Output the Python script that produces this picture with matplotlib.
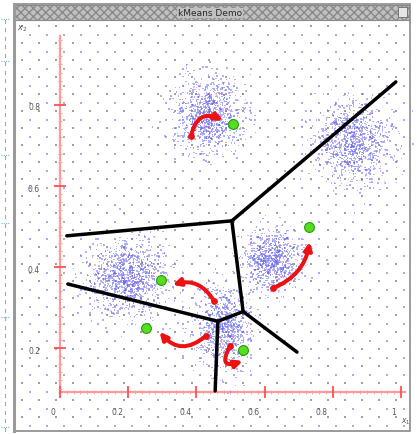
import matplotlib
matplotlib.use('Agg')
import matplotlib.pyplot as plt
import numpy as np
from matplotlib.patches import Rectangle, FancyArrowPatch
from matplotlib.transforms import ScaledTranslation

# cluster clouds: centre, spread, point count
cloud_x = [0.44, 0.86, 0.625, 0.196, 0.478]
cloud_y = [0.775, 0.71, 0.42, 0.372, 0.25]
cloud_sx = [0.052, 0.055, 0.042, 0.056, 0.040]
cloud_sy = [0.044, 0.050, 0.038, 0.044, 0.050]
cloud_n = [1000, 1050, 850, 1150, 850]

# current centroids (green)
cent_x = [0.507, 0.73, 0.296, 0.252, 0.537]
cent_y = [0.753, 0.50, 0.368, 0.249, 0.195]

# previous centroid -> move arrows (red)
arrow_x0 = [0.384, 0.625, 0.452, 0.428, 0.499]
arrow_y0 = [0.723, 0.348, 0.316, 0.230, 0.205]
arrow_x1 = [0.478, 0.732, 0.330, 0.292, 0.536]
arrow_y1 = [0.762, 0.462, 0.356, 0.240, 0.168]
arrow_rad = [-0.62, 0.28, 0.38, -0.5, 1.3]

# voronoi edges
edges = [
    ((0.020, 0.477), (0.504, 0.514)),
    ((0.504, 0.514), (0.985, 0.857)),
    ((0.504, 0.514), (0.537, 0.290)),
    ((0.537, 0.290), (0.695, 0.190)),
    ((0.537, 0.290), (0.463, 0.266)),
    ((0.463, 0.266), (0.023, 0.358)),
    ((0.463, 0.266), (0.455, 0.094)),
]

xticks = [0, 0.2, 0.4, 0.6, 0.8, 1]
xtick_labels = ['0', '0.2', '0.4', '0.6', '0.8', '1']
yticks = [0.2, 0.4, 0.6, 0.8]
ytick_labels = ['0.2', '0.4', '0.6', '0.8']
x_cross = 0.0914

W, H = 417, 435
fig = plt.figure(figsize=(W / 100, H / 100), dpi=100)
fig.patch.set_facecolor('white')

# window chrome, in pixel coords
bg = fig.add_axes([0, 0, 1, 1])
bg.set_xlim(0, W)
bg.set_ylim(H, 0)
bg.axis('off')
bg.add_patch(Rectangle((14, 5), 396, 427, facecolor='white', edgecolor='#8a8a8a', lw=1.2))
bg.plot([14, 14], [5, 432], color='#9a9a9a', lw=2.2)
plt.rcParams['hatch.color'] = '#8c8c8c'
bg.add_patch(Rectangle((15, 6), 394, 15, facecolor='#c0c0c0', edgecolor='#8a8a8a',
                       hatch='xxxx', lw=0.8))
bg.add_patch(Rectangle((398, 8), 9, 10, facecolor='#e6e6e6', edgecolor='#777777', lw=0.7))
bg.text(210, 14, 'kMeans Demo', ha='center', va='center', fontsize=6.5,
        color='#2a2a2a', bbox=dict(facecolor='#c0c0c0', edgecolor='none', pad=0.5))

# dotted background grid (checkerboard of dots, rows alternate grey/blue)
gx = np.arange(22, 408, 8.5)
gy = np.arange(27, 430, 8.5)
GX, GY = np.meshgrid(gx, gy)
I, J = np.meshgrid(np.arange(len(gx)), np.arange(len(gy)))
on = (I + J) % 2 == 0
grey = on & (J % 2 == 0)
blue = on & (J % 2 == 1)
bg.scatter(GX[grey], GY[grey], s=0.8, color='#a0a0a0', marker='s', lw=0)
bg.scatter(GX[blue], GY[blue], s=0.8, color='#a8a8ff', marker='s', lw=0)

# stray blue marks outside the window
for yy in np.arange(22, 432, 8.5):
    bg.plot([5, 5], [yy - 1.5, yy + 1.5], color='#7fb2e8', lw=0.8)
for yy in [20, 62, 156, 224, 318, 428]:
    bg.plot([1, 9], [yy, yy], color='#7fb2e8', lw=0.8, ls=(0, (1, 1)))

# data axes
ax = fig.add_axes([0, 0, 1, 1])
ax.patch.set_alpha(0)
ax.set_xlim(-0.176, 1.047)
ax.set_ylim(-0.0123, 1.0617)

rng = np.random.default_rng(7)
for cx, cy, sx, sy, n in zip(cloud_x, cloud_y, cloud_sx, cloud_sy, cloud_n):
    px = rng.normal(cx, sx, n)
    py = rng.normal(cy, sy, n)
    cols = np.where(rng.random(n) < 0.05, '#ee77cc', '#6464f0')
    ax.scatter(px, py, s=1.1, c=cols, marker='s', lw=0, alpha=0.5, zorder=2)

for (x0, y0), (x1, y1) in edges:
    ax.plot([x0, x1], [y0, y1], color='black', lw=2.5, solid_capstyle='round', zorder=4)

for x0, y0, x1, y1, r in zip(arrow_x0, arrow_y0, arrow_x1, arrow_y1, arrow_rad):
    ax.add_patch(FancyArrowPatch((x0, y0), (x1, y1), connectionstyle=f'arc3,rad={r}',
                                 arrowstyle='-|>', mutation_scale=11, color='#ee1111',
                                 lw=2.9, shrinkA=0, shrinkB=0, zorder=5))
ax.scatter(arrow_x0, arrow_y0, s=24, color='#ee1111', lw=0, zorder=5)

ax.scatter(cent_x, cent_y, s=50, color='#55dd22', edgecolor='#2a9a10', lw=0.8, zorder=6)

# red axes crossing inside the plot
for side in ['top', 'right']:
    ax.spines[side].set_visible(False)
ax.spines['left'].set_position(('data', 0))
ax.spines['bottom'].set_position(('data', x_cross))
ax.spines['left'].set_bounds(x_cross, 0.97)
ax.spines['bottom'].set_bounds(0, 1.012)
for side in ['left', 'bottom']:
    ax.spines[side].set_color('#ff9a9a')
    ax.spines[side].set_linewidth(1.6)
    ax.spines[side].set_zorder(1)
ax.set_xticks(xticks)
ax.set_yticks(yticks)
ax.set_xticks(np.arange(0.02, 1.0, 0.02), minor=True)
ax.set_yticks(np.arange(0.1, 0.97, 0.02), minor=True)
ax.tick_params(which='major', direction='inout', length=9, width=1.3, color='#ff5050',
               labelbottom=False, labelleft=False)
ax.tick_params(which='minor', direction='inout', length=2.5, width=0.6, color='#ff9a9a')

lab = dict(fontsize=5.5, color='#555555')
for v, t in zip(xticks, xtick_labels):
    off = ScaledTranslation(-0.05, -0.2, fig.dpi_scale_trans)
    ax.text(v, x_cross, t, ha='right', va='center', transform=ax.transData + off, **lab)
for v, t in zip(yticks, ytick_labels):
    off = ScaledTranslation(-0.2, -0.02, fig.dpi_scale_trans)
    ax.text(0, v, t, ha='right', va='center', transform=ax.transData + off, **lab)

bg.text(22, 29, r'$x_2$', ha='center', va='center', fontsize=6, color='#555555')
bg.text(406, 422, r'$x_1$', ha='center', va='center', fontsize=5.5, color='#555555')

fig.savefig('out.png', dpi=100)
